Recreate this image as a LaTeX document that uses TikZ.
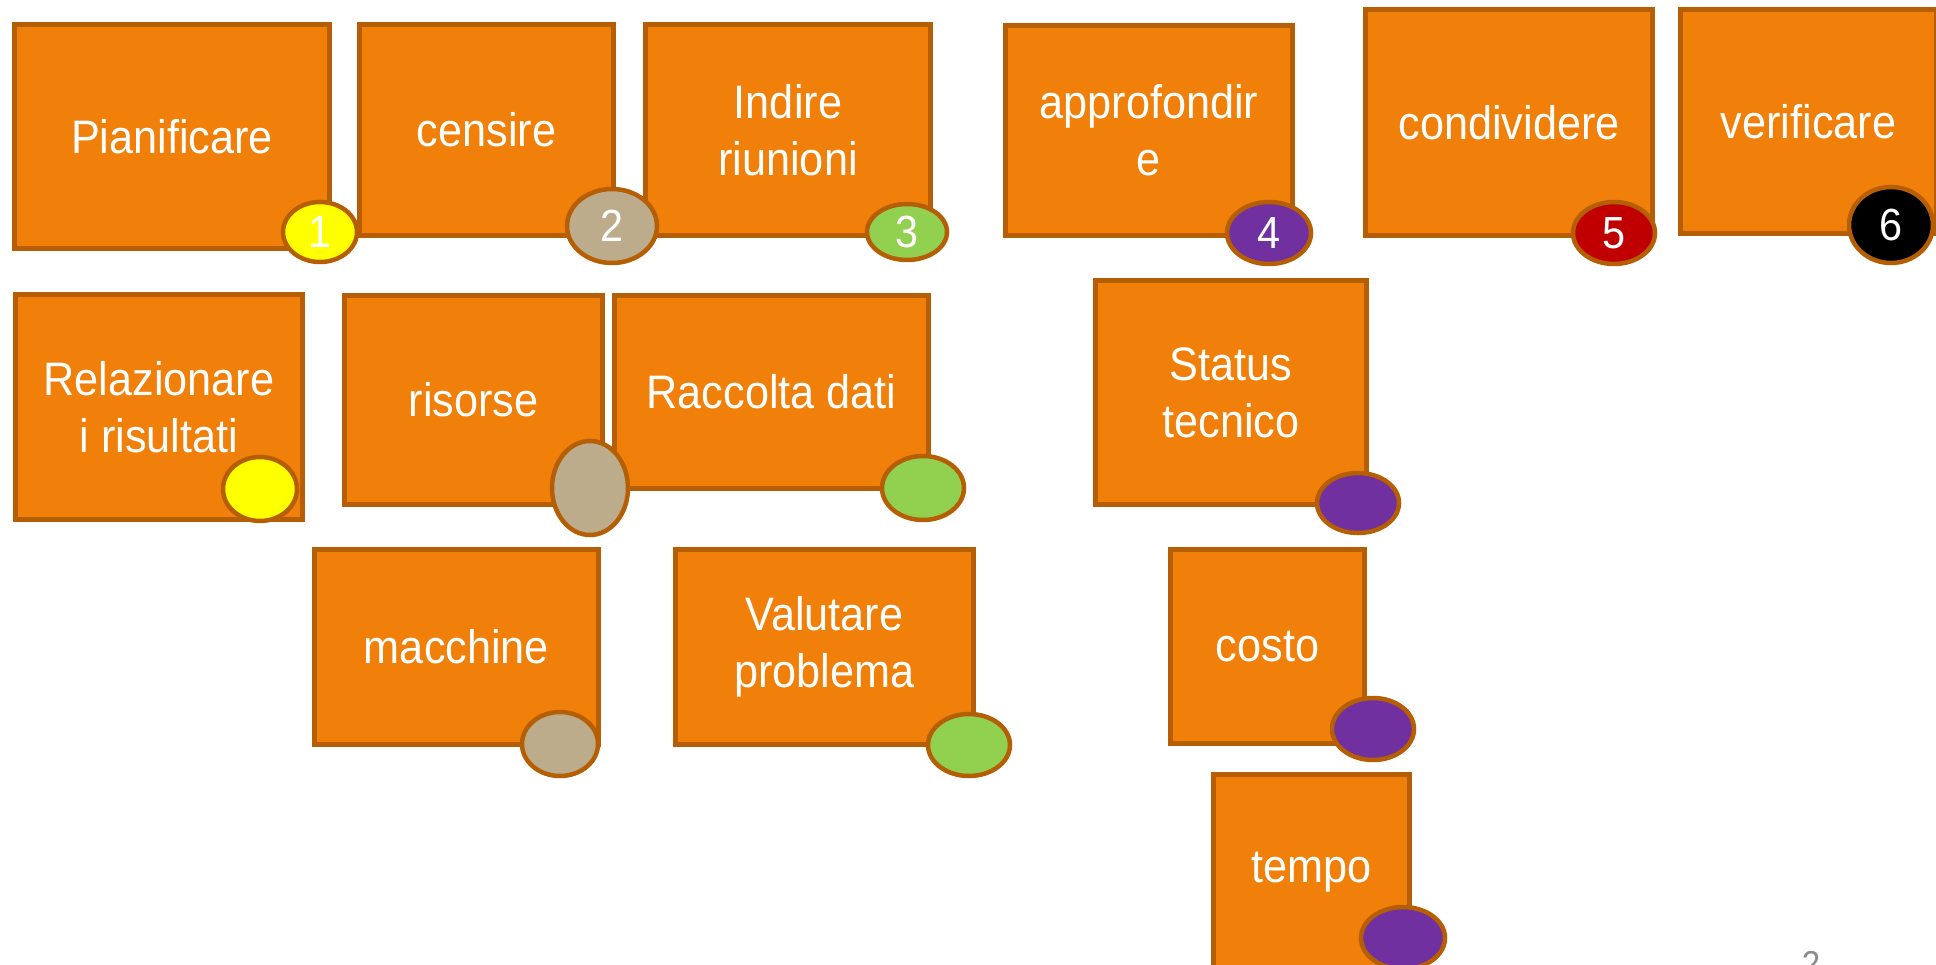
\documentclass[tikz,border=0pt]{standalone}
\usepackage{fontspec}
\newfontfamily\boxfont[FakeStretch=0.92]{Liberation Sans}
\usepackage{tikz}
\usetikzlibrary{shapes.geometric}
\definecolor{boxfill}{RGB}{240,128,10}
\definecolor{boxline}{RGB}{181,94,4}
\definecolor{dotyellow}{RGB}{255,255,0}
\definecolor{dottan}{RGB}{188,172,140}
\definecolor{dotgreen}{RGB}{146,208,80}
\definecolor{dotpurple}{RGB}{112,48,160}
\definecolor{dotred}{RGB}{192,0,0}
\definecolor{dotblack}{RGB}{0,0,0}
\definecolor{pagegray}{RGB}{140,140,140}

\begin{document}
\begin{tikzpicture}[x=1pt,y=-1pt,
	card/.style={draw=boxline, fill=boxfill, line width=5pt, anchor=north west, inner sep=0pt, align=center, text=white, font=\boxfont\fontsize{47}{57}\selectfont},
	dot/.style={ellipse, draw=boxline, line width=4.5pt, inner sep=0pt, text=white, font=\boxfont\fontsize{45}{45}\selectfont}]
\useasboundingbox (0,0) rectangle (1936,965);
\clip (0,0) rectangle (1936,965);

\node[card, minimum width=315, minimum height=224] (plan) at (12,22) {Pianificare};
\node[card, minimum width=254, minimum height=211] (cens) at (357,22) {censire};
\node[card, minimum width=285, minimum height=211] (indire) at (643,22) {Indire\\riunioni};
\node[card, minimum width=287, minimum height=210] (appr) at (1003,23) {approfondir\\e};
\node[card, minimum width=287, minimum height=226] (cond) at (1363,7) {condividere};
\node[card, minimum width=256, minimum height=224] (verif) at (1678,7) {verificare};

\node[card, minimum width=287, minimum height=225] (relaz) at (13,292) {Relazionare\\i risultati};
\node[card, minimum width=258, minimum height=209] (risor) at (342,293) {risorse};
\node[card, minimum width=314, minimum height=193] (racc) at (612,293) {Raccolta dati};
\node[card, minimum width=271, minimum height=224] (status) at (1093,278) {Status\\tecnico};

\node[card, minimum width=284, minimum height=195] (macch) at (312,547) {macchine};
\node[card, minimum width=298, minimum height=195] (valut) at (673,547) {Valutare\\problema};
\node[card, minimum width=194, minimum height=194] (costo) at (1168,547) {costo};
\node[card, minimum width=196, minimum height=196] (tempo) at (1211,772) {tempo};

\node[dot, fill=dotyellow, minimum width=74, minimum height=60] (d1) at (320,232) {1};
\node[dot, fill=dottan, minimum width=90, minimum height=74] (d2) at (612,226) {2};
\node[dot, fill=dotgreen, minimum width=80, minimum height=56] (d3) at (907,232) {3};
\node[dot, fill=dotpurple, minimum width=84, minimum height=62] (d4) at (1269,233) {4};
\node[dot, fill=dotred, minimum width=82, minimum height=62] (d5) at (1614,233) {5};
\node[dot, fill=dotblack, minimum width=84, minimum height=76] (d6) at (1891,225) {6};

\node[dot, fill=dotyellow, minimum width=74, minimum height=64] (drelaz) at (260,489) {};
\node[dot, fill=dottan, minimum width=76, minimum height=94] (drisor) at (590,488) {};
\node[dot, fill=dotgreen, minimum width=82, minimum height=64] (dracc) at (923,488) {};
\node[dot, fill=dotpurple, minimum width=82, minimum height=60] (dstatus) at (1358,503) {};
\node[dot, fill=dottan, minimum width=76, minimum height=64] (dmacch) at (560,744) {};
\node[dot, fill=dotgreen, minimum width=82, minimum height=62] (dvalut) at (969,745) {};
\node[dot, fill=dotpurple, minimum width=82, minimum height=62] (dcosto) at (1373,729) {};
\node[dot, fill=dotpurple, minimum width=84, minimum height=62] (dtempo) at (1403,938) {};

\node[anchor=base, text=pagegray, font=\boxfont\fontsize{36}{36}\selectfont] (pagenum) at (1811,976) {2};
\end{tikzpicture}
\end{document}
